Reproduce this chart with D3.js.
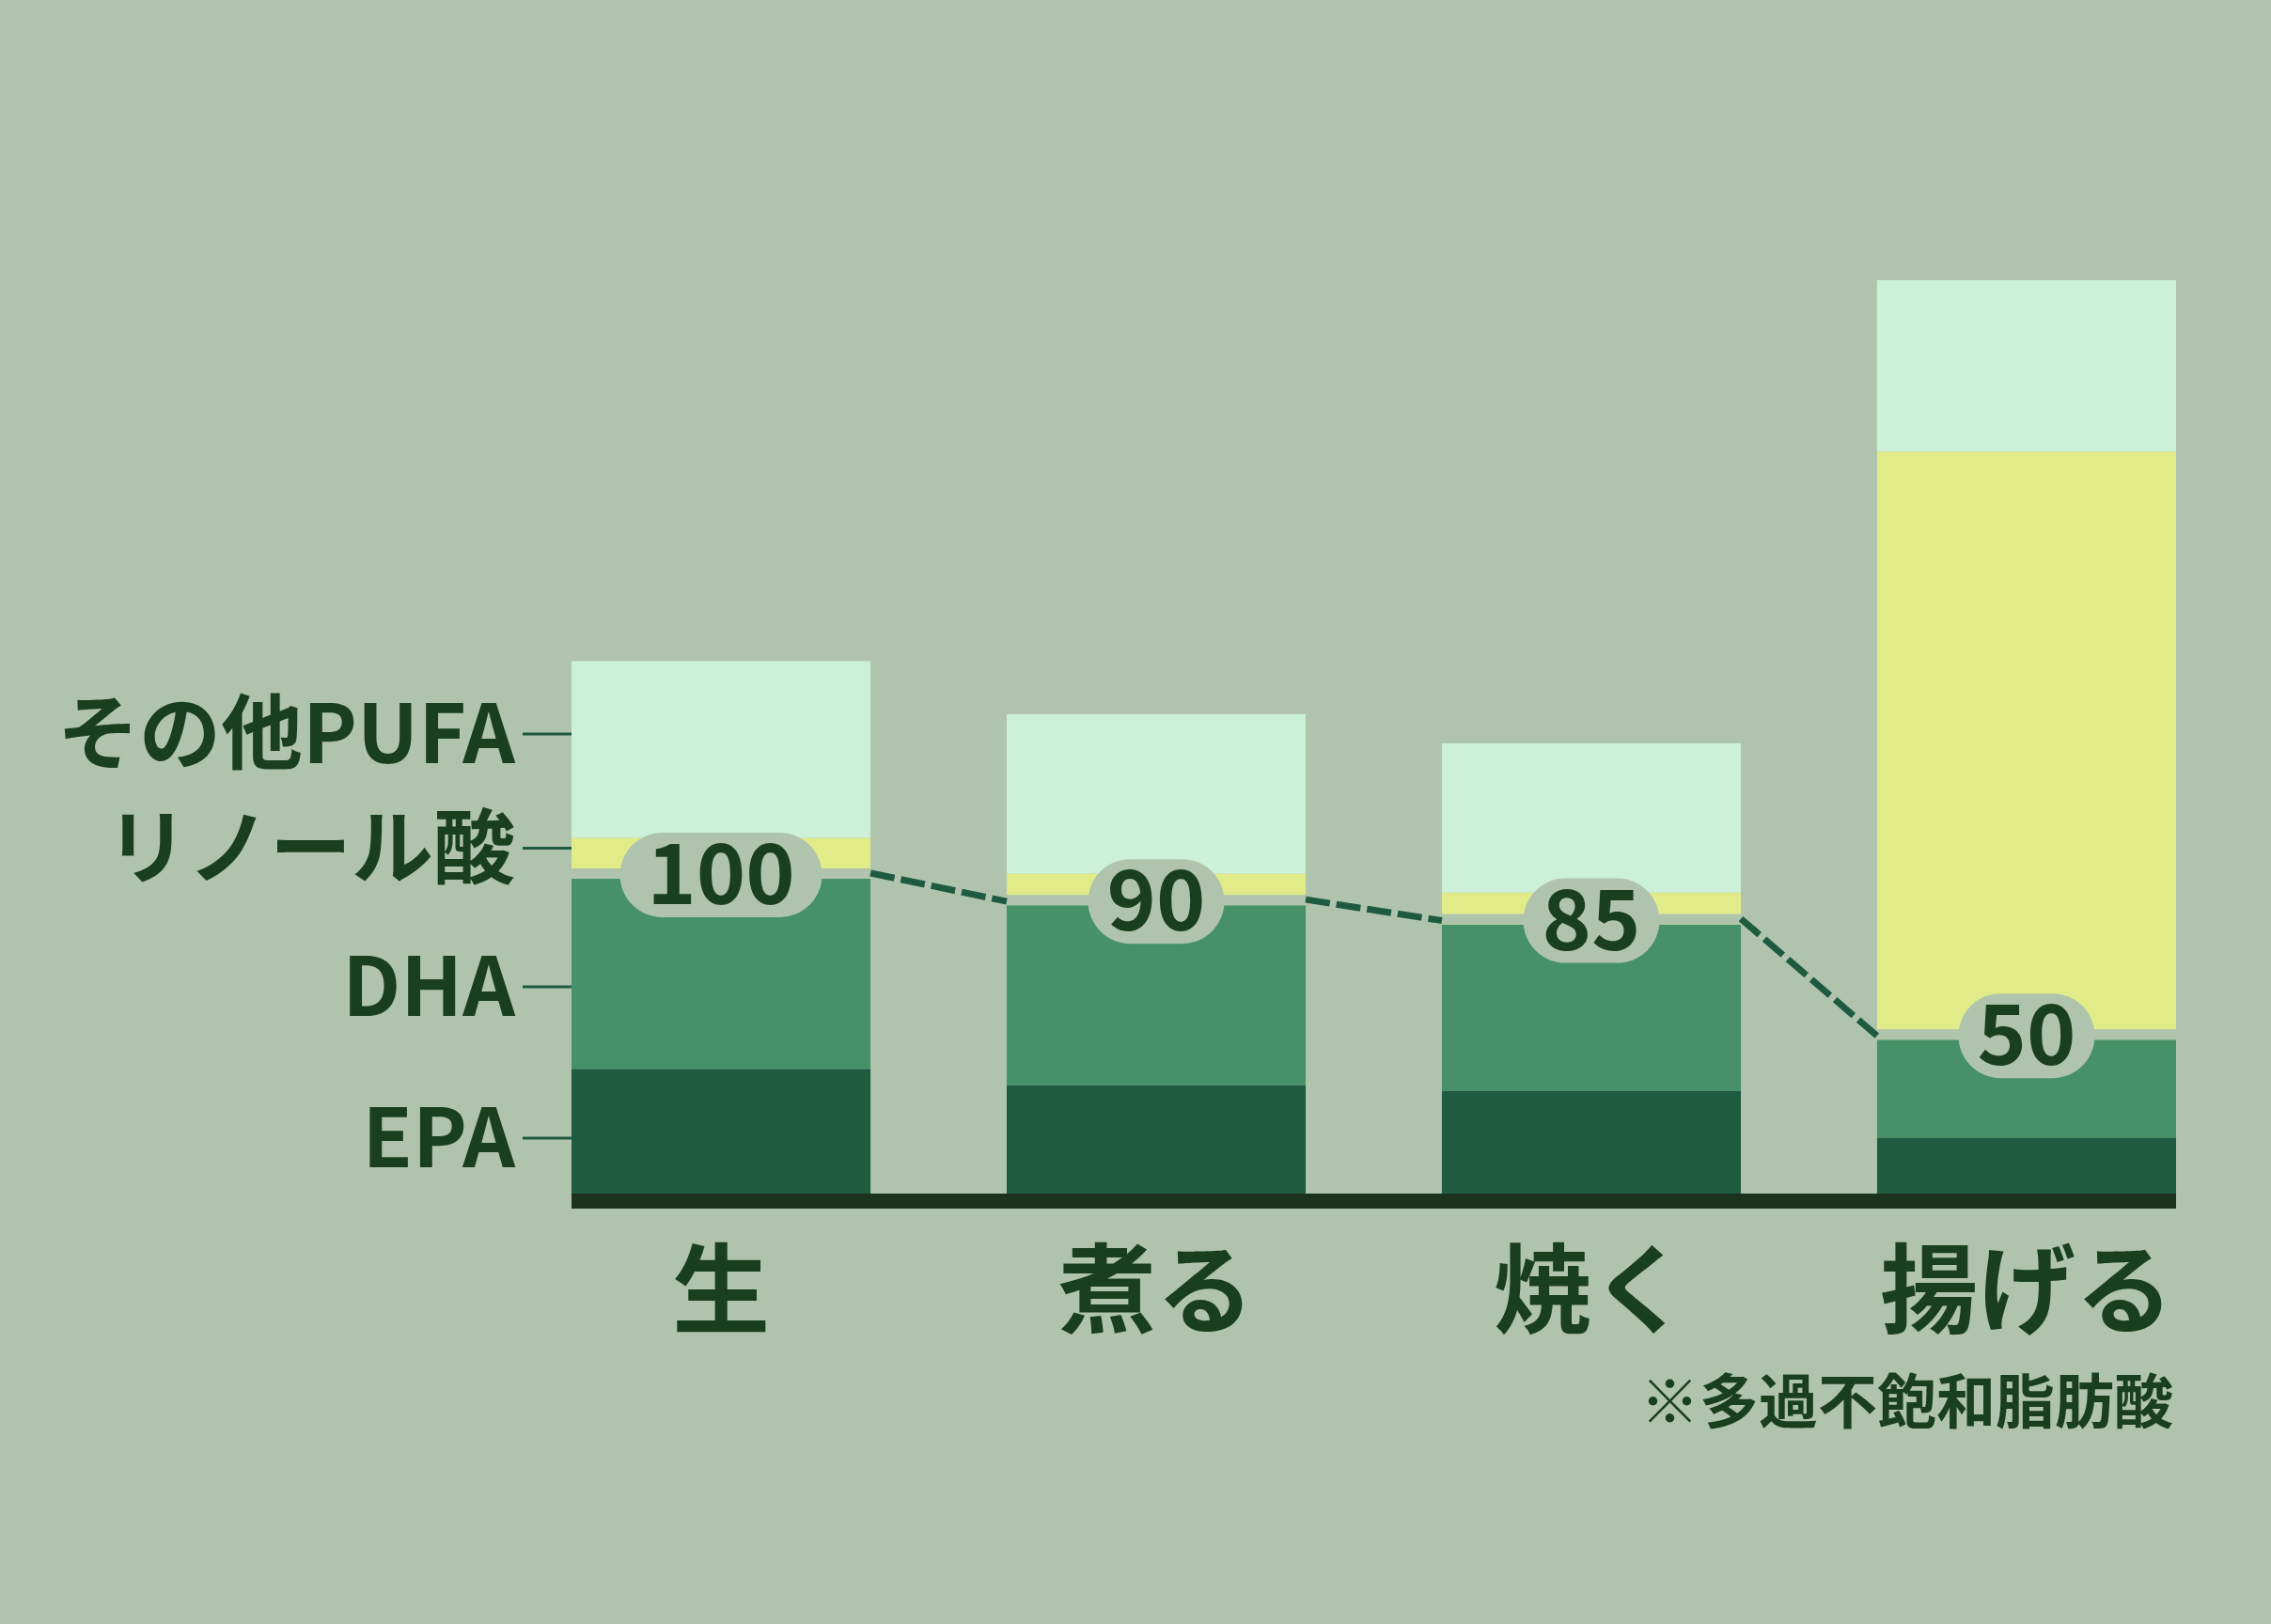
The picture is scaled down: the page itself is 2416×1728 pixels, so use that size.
<!DOCTYPE html>
<html><head><meta charset="utf-8">
<script src="https://cdn.jsdelivr.net/npm/d3@7"></script>
<style>
html,body{margin:0;padding:0;background:#b0c4ad;}
svg{display:block;}
text{font-family:"Noto Sans CJK JP","Noto Sans",sans-serif;font-weight:700;}
</style></head>
<body>
<script>
// ---- data ----
const categories = ["生", "煮る", "焼く", "揚げる"];
const seriesNames = ["EPA", "DHA", "リノール酸", "その他PUFA"];
const epa      = [39.6, 34.5, 32.7, 17.8];
const dha      = [60.4, 57.1, 52.8, 31.1];
const linoleic = [13.0, 10.0, 10.1, 186.8];
const otherPufa = [56.1, 50.7, 47.4, 54.4];
const omega3Index = [100, 90, 85, 50];
const legendAt = [17.6, 65.7, 109.7, 146];   // value positions of the legend ticks
const footnote = "※多過不飽和脂肪酸";

const colors = ["#1f5b41", "#479169", "#e1ec88", "#cdf0d9"];
const bg = "#b0c4ad";
const ink = "#1a3f1e";

const W = 2416, H = 1728;
const svg = d3.select("body").append("svg").attr("width", W).attr("height", H);
svg.append("rect").attr("width", W).attr("height", H).attr("fill", bg);

const x = d3.scaleBand().domain(categories).range([608, 2315]).paddingInner(0.313).paddingOuter(0);
const y = d3.scaleLinear().domain([0, 100]).range([1270, 935]);

const rows = categories.map((c, i) => ({cat: c, EPA: epa[i], DHA: dha[i], "リノール酸": linoleic[i], "その他PUFA": otherPufa[i]}));
const stack = d3.stack().keys(seriesNames)(rows);

const g = svg.append("g");
stack.forEach((layer, k) => {
  g.selectAll(null).data(layer).enter().append("rect")
    .attr("x", d => x(d.data.cat))
    .attr("width", x.bandwidth())
    .attr("y", d => y(d[1]))
    .attr("height", d => y(d[0]) - y(d[1]))
    .attr("fill", colors[k]);
});

// separator band above DHA
const o3 = categories.map((c, i) => epa[i] + dha[i]);
g.selectAll(null).data(categories).enter().append("rect")
  .attr("x", d => x(d)).attr("width", x.bandwidth())
  .attr("y", (d, i) => y(o3[i]) - 11).attr("height", 11)
  .attr("fill", bg);

// axis baseline
svg.append("rect").attr("x", 608).attr("y", 1270).attr("width", 2315 - 608).attr("height", 16).attr("fill", "#1b331d");

// dashed connectors
const line = d3.line();
for (let i = 0; i < categories.length - 1; i++) {
  const p0 = [x(categories[i]) + x.bandwidth(), y(o3[i]) - 6];
  const p1 = [x(categories[i + 1]), y(o3[i + 1]) - 4];
  svg.append("path").attr("d", line([p0, p1]))
    .attr("stroke", "#1e5a40").attr("stroke-width", 7)
    .attr("stroke-dasharray", "26,7").attr("fill", "none");
}

// pills with values
categories.forEach((c, i) => {
  const cx = x(c) + x.bandwidth() / 2;
  const cy = y(o3[i]) - 4;
  const label = String(omega3Index[i]);
  const w = 70 * label.length + 5, h = 90;
  svg.append("rect").attr("x", cx - w / 2).attr("y", cy - h / 2)
    .attr("width", w).attr("height", h).attr("rx", h / 2).attr("ry", h / 2)
    .attr("fill", bg);
  svg.append("text").attr("x", cx).attr("y", cy + 31)
    .attr("text-anchor", "middle").attr("font-size", 89).attr("fill", ink)
    .text(label);
});

// legend ticks and labels
seriesNames.forEach((s, k) => {
  const ty = y(legendAt[k]);
  svg.append("line").attr("x1", 556).attr("x2", 608).attr("y1", ty).attr("y2", ty)
    .attr("stroke", "#1e5a40").attr("stroke-width", 3);
  svg.append("text").attr("x", 548).attr("y", ty + 31)
    .attr("text-anchor", "end").attr("font-size", 87).attr("fill", ink)
    .text(s);
});

// category labels
svg.selectAll(null).data(categories).enter().append("text")
  .attr("x", d => x(d) + x.bandwidth() / 2).attr("y", 1411)
  .attr("text-anchor", "middle").attr("font-size", 104).attr("fill", ink)
  .text(d => d);

// footnote
svg.append("text").attr("x", 2312).attr("y", 1514)
  .attr("text-anchor", "end").attr("font-size", 63).attr("fill", ink)
  .text(footnote);
</script>
</body></html>
